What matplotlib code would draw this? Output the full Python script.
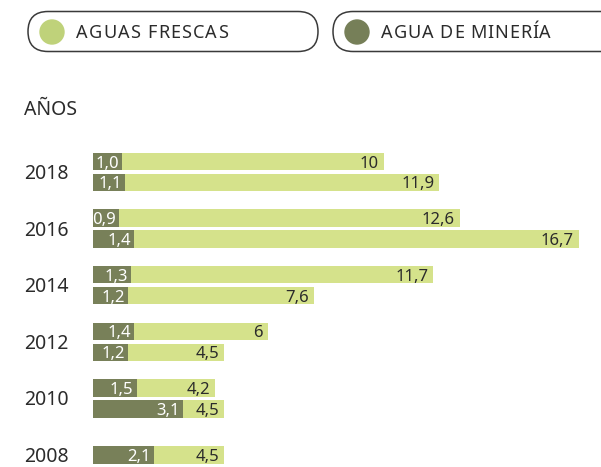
import matplotlib
matplotlib.use('Agg')
import matplotlib.pyplot as plt
from matplotlib.patches import FancyBboxPatch, Circle
from matplotlib.transforms import blended_transform_factory

plt.rcParams['font.family'] = ['Noto Sans', 'DejaVu Sans']

# datos (millones de m3)
years = ['2018', '2016', '2014', '2012', '2010', '2008']
frescas_a = [10, 12.6, 11.7, 6, 4.2, 4.5]
mineria_a = [1.0, 0.9, 1.3, 1.4, 1.5, 2.1]
frescas_b = [11.9, 16.7, 7.6, 4.5, 4.5, None]
mineria_b = [1.1, 1.4, 1.2, 1.2, 3.1, None]

col_frescas = '#d5e28b'
col_mineria = '#788059'
col_txt = '#2b2b2b'

W, H = 601, 467
fig = plt.figure(figsize=(W / 100, H / 100), dpi=100)

# capa en pixeles para leyenda y titulo
top = fig.add_axes([0, 0, 1, 1])
top.set_xlim(0, W)
top.set_ylim(H, 0)
top.axis('off')

# grafico de barras
ax = fig.add_axes([93 / W, 0, 1 - 93 / W, 1])
px_unit = 29.1
gap = 56.6
ax.set_xlim(0, (W - 93) / px_unit)
ax.set_ylim((H - 172) / gap, -172 / gap)
ax.axis('off')

off = 10.5 / gap
h = 17.5 / gap


def fmt(v, dec):
    s = f"{v:.1f}" if dec else f"{v:g}"
    return s.replace('.', ',')


trans_year = blended_transform_factory(fig.transFigure, ax.transData)

for i, yr in enumerate(years):
    rows = [(frescas_a[i], mineria_a[i]), (frescas_b[i], mineria_b[i])]
    rows = [r for r in rows if r[0] is not None]
    ys = [i - off, i + off] if len(rows) == 2 else [i]
    for y, (f, m) in zip(ys, rows):
        ax.barh(y, f, height=h, color=col_frescas)
        ax.barh(y, m, height=h, color=col_mineria)
        ax.annotate(fmt(f, False), (f, y), xytext=(-5, -6), textcoords='offset pixels',
                    ha='right', va='baseline', fontsize=12, color=col_txt)
        ax.annotate(fmt(m, True), (m, y), xytext=(-3, -6), textcoords='offset pixels',
                    ha='right', va='baseline', fontsize=12, color='white')
    ax.text(24 / W, i + 7 / gap, yr, transform=trans_year, ha='left', va='baseline',
            fontsize=14, color=col_txt)

top.text(24, 115, 'AÑOS', ha='left', va='baseline', fontsize=14, color=col_txt)


def spaced_text(x, y, s, width, **kw):
    r = fig.canvas.get_renderer()
    arts = []
    widths = []
    for ch in s:
        t = top.text(0, y, ch, ha='left', va='baseline', **kw)
        w = t.get_window_extent(r).width
        if ch == ' ' or w == 0:
            w = 4.5
        arts.append(t)
        widths.append(w)
    sp = (width - sum(widths)) / (len(s) - 1)
    for t, w in zip(arts, widths):
        t.set_x(x)
        x += w + sp


# leyenda
legend = [('AGUAS FRESCAS', '#bfd27a', 28, 290, 152),
          ('AGUA DE MINERÍA', '#767f58', 333, 300, 170)]
for label, c, x0, bw, tw in legend:
    top.add_patch(FancyBboxPatch((x0, 11.5), bw, 40, boxstyle='round,pad=0,rounding_size=20',
                                 fc='white', ec='#3a3a3a', lw=1.1))
    top.add_patch(Circle((x0 + 24, 32), 12, color=c))
    spaced_text(x0 + 48, 38.5, label, tw, fontsize=13, color=col_txt)

fig.savefig('out.png', dpi=100)
